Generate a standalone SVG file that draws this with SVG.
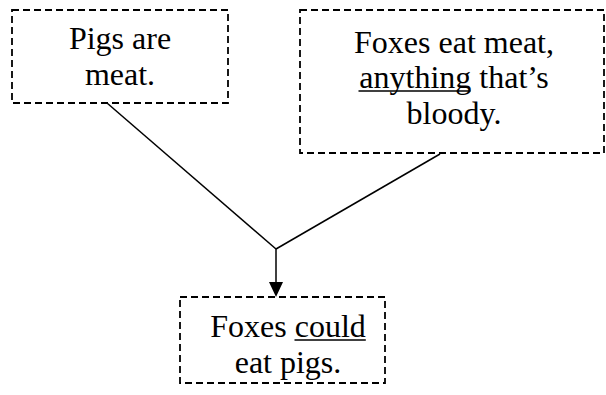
<svg xmlns="http://www.w3.org/2000/svg" width="606" height="395" viewBox="0 0 606 395">
  <style>
    .box { fill: #ffffff; stroke: #000000; stroke-width: 1.8; stroke-dasharray: 7 4; }
    .label { font-size: 32px; fill: #000000; text-anchor: middle; }
    .edge { fill: none; stroke: #000000; stroke-width: 1.5; }
    .uline { stroke: #000000; stroke-width: 1.6; }
  </style>
  <rect width="606" height="395" fill="#ffffff"/>

  <g id="connectors">
    <line class="edge" x1="107" y1="103" x2="276" y2="249"/>
    <line class="edge" x1="440" y1="154" x2="276" y2="249"/>
    <path d="M276,249 L276,282" class="edge"/>
    <path d="M269,282 L283,282 L276,297 Z" fill="#000000"/>
  </g>

  <g font-family="Liberation Serif, Times New Roman, serif">
    <g id="pigs">
      <rect class="box" x="12" y="10" width="216" height="93"/>
      <text class="label" x="120" y="49">Pigs are</text>
      <text class="label" x="120" y="85">meat.</text>
    </g>

    <g id="foxes">
      <rect class="box" x="300" y="10" width="304" height="143"/>
      <text class="label" x="454" y="53">Foxes eat meat,</text>
      <text class="label" x="454" y="88">anything that’s</text>
      <line class="uline" x1="358.5" y1="91" x2="470.5" y2="91"/>
      <text class="label" x="454" y="124">bloody.</text>
    </g>

    <g id="conclusion">
      <rect class="box" x="180" y="297" width="205" height="86"/>
      <text class="label" x="288" y="337">Foxes could</text>
      <line class="uline" x1="294.5" y1="340" x2="365.8" y2="340"/>
      <text class="label" x="288" y="373">eat pigs.</text>
    </g>
  </g>
</svg>
